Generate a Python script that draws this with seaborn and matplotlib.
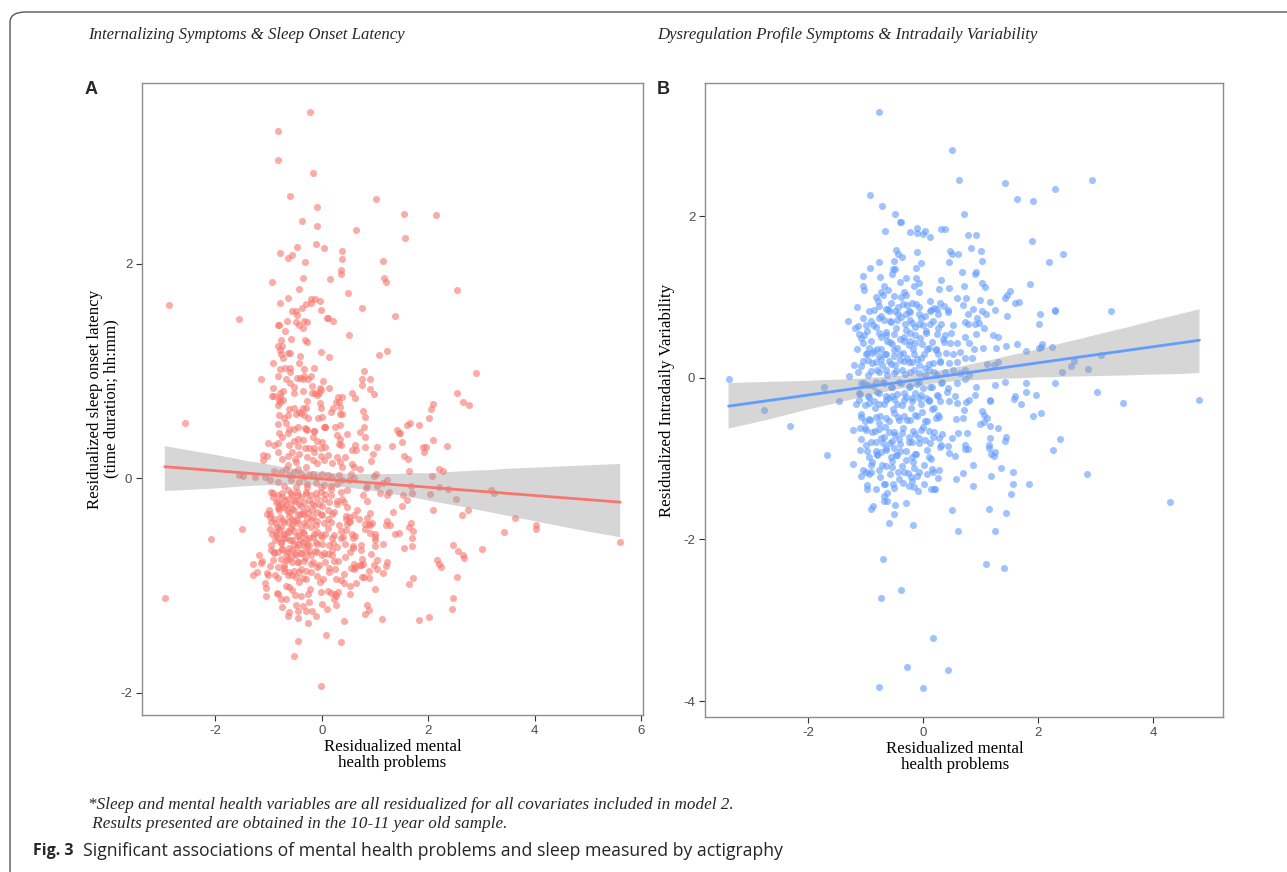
import numpy as np
import pandas as pd
import matplotlib
matplotlib.use("Agg")
import matplotlib.pyplot as plt
from matplotlib.patches import FancyBboxPatch
import seaborn as sns

# --- Data ---

# Panel A: internalizing symptoms vs sleep onset latency (residuals)
a_upper = [
    (-0.22, 3.42), (-0.82, 3.24), (-0.83, 2.97), (-0.16, 2.85), (-0.60, 2.63), (1.02, 2.61),
    (-0.09, 2.53), (1.54, 2.47), (2.15, 2.46), (-0.37, 2.40), (-0.09, 2.35), (0.65, 2.32),
    (1.56, 2.24), (-0.10, 2.19), (-0.47, 2.16), (0.04, 2.15), (0.39, 2.12), (-0.78, 2.10),
    (-0.55, 2.08), (-0.64, 2.06), (0.39, 2.05), (-0.32, 2.02), (1.15, 2.03), (0.36, 1.94),
    (0.37, 1.91), (-0.35, 1.87), (0.16, 1.86), (1.17, 1.87), (1.21, 1.83), (-0.93, 1.83),
    (-0.43, 1.77), (2.55, 1.76), (0.49, 1.73), (-2.87, 1.62), (-0.78, 1.64), (-0.64, 1.68),
    (-0.20, 1.67), (-0.13, 1.67), (-0.03, 1.65), (-0.20, 1.64), (-0.30, 1.63), (-0.38, 1.59),
    (0.75, 1.59), (-0.55, 1.56), (-0.49, 1.56), (-0.01, 1.57), (-1.55, 1.49), (-0.46, 1.52),
    (0.09, 1.50), (0.11, 1.50), (1.38, 1.51), (0.21, 1.47), (-0.65, 1.47), (-0.49, 1.46),
    (-0.33, 1.47), (-0.27, 1.46), (-0.83, 1.43), (-0.81, 1.43), (-0.42, 1.43), (-0.36, 1.40),
    (-0.69, 1.37), (0.51, 1.34), (-0.77, 1.29), (-0.57, 1.30), (-0.31, 1.29), (-0.27, 1.27),
    (-0.83, 1.23), (-0.74, 1.23), (-0.79, 1.20), (1.23, 1.19), (1.08, 1.15), (-0.64, 1.17),
    (-0.60, 1.17), (-0.76, 1.16), (-0.02, 1.18), (0.14, 1.13), (-0.41, 1.14), (-0.72, 1.12),
    (-0.42, 1.08), (-0.91, 1.08), (-0.69, 1.03), (-0.60, 1.03), (-0.34, 1.02), (-0.14, 1.03),
    (-0.79, 1.02), (0.79, 1.00), (2.89, 0.98), (-0.60, 0.99), (-1.14, 0.93), (-0.82, 0.95),
    (-0.67, 0.93), (-0.46, 0.94), (-0.41, 0.94), (-0.35, 0.93), (-0.33, 0.95), (-0.26, 0.93),
    (-0.21, 0.95), (0.02, 0.91), (0.76, 0.93), (0.91, 0.93), (0.76, 0.87), (0.90, 0.83),
    (-0.60, 0.89), (-0.53, 0.85), (-0.91, 0.84), (-0.18, 0.86), (-0.03, 0.84), (-0.02, 0.82),
    (0.14, 0.84), (-0.35, 0.81), (-0.19, 0.80), (-0.12, 0.80), (-0.05, 0.80), (-0.52, 0.80),
    (-0.72, 0.81), (-0.78, 0.80), (-0.93, 0.77), (-0.90, 0.77), (-0.79, 0.76), (-0.80, 0.73),
    (-0.73, 0.73), (-0.79, 0.71), (0.56, 0.80), (0.98, 0.79), (2.55, 0.80), (2.65, 0.71),
    (0.31, 0.76), (0.39, 0.76), (0.62, 0.75), (-0.09, 0.78), (-0.28, 0.72), (-0.03, 0.70),
    (0.32, 0.71), (0.27, 0.71), (2.10, 0.69),
]
a_sparse = [
    (-2.57, 0.52), (-2.95, -1.12), (-2.09, -0.57), (-1.50, -0.47), (-1.55, 0.03), (-1.48, 0.02),
    (-1.25, 0.01), (-1.07, 0.01), (-0.98, -0.02), (-1.11, 0.22), (-1.02, 0.21), (-1.11, 0.17),
    (-1.01, 0.33), (-1.17, -0.72), (-1.30, -0.80), (-1.30, -0.90), (-1.21, -0.87), (-1.12, -0.77),
    (-1.07, -0.98), (-1.04, -1.10), (-1.01, -0.90), (-0.97, -0.82), (-0.88, -0.90), (-0.84, -1.07),
    (-0.77, -1.13), (-0.64, -1.28), (-0.62, -1.25), (-0.52, -1.66), (-0.45, -1.52), (-0.25, -1.35),
    (-0.44, -1.30), (-0.48, -1.18), (-0.50, -1.09), (-0.36, -1.19), (-0.29, -1.24), (-0.19, -1.24),
    (-0.25, -1.08), (-0.22, -1.03), (-0.01, -1.94), (0.08, -1.46), (0.37, -1.53), (0.00, -1.17),
    (0.10, -1.22), (0.27, -1.18), (0.41, -1.33), (0.12, -1.05), (0.18, -1.07), (0.25, -1.08),
    (0.31, -1.06), (0.26, -1.10), (0.03, -0.94), (-0.04, -0.97), (0.26, -0.94), (0.37, -0.95),
    (0.41, -0.98), (0.54, -1.00), (0.65, -0.98), (0.14, -0.87), (0.25, -0.85), (0.82, -1.27),
    (0.89, -1.23), (1.13, -1.31), (1.01, -1.03), (0.75, -0.92), (0.89, -0.93), (0.89, -0.86),
    (0.60, -0.85), (0.55, -0.84), (0.63, -0.83), (0.73, -0.81), (0.77, -0.80), (0.99, -0.81),
    (1.04, -0.76), (1.15, -0.88), (1.21, -0.82), (1.64, -0.99), (1.71, -0.93), (1.83, -1.32),
    (2.01, -1.29), (2.44, -1.22), (2.46, -1.12), (2.54, -0.92), (2.16, -0.76), (2.20, -0.80),
    (2.25, -0.83), (2.47, -0.62), (2.56, -0.68), (2.66, -0.72), (2.67, -0.74), (3.02, -0.66),
    (3.43, -0.50), (3.63, -0.37), (4.02, -0.44), (4.02, -0.47), (5.61, -0.59), (3.24, -0.14),
    (3.18, -0.11), (2.75, -0.30), (2.63, -0.34), (2.53, -0.19), (2.09, -0.30), (2.04, -0.15),
    (2.37, -0.10), (2.21, -0.08), (2.08, 0.02), (2.21, 0.09), (2.27, 0.07), (2.36, 0.30),
    (2.10, 0.36), (1.91, 0.29), (1.93, 0.25), (1.96, 0.29), (2.01, 0.56), (2.06, 0.65),
    (2.77, 0.68), (1.83, 0.50), (1.60, 0.50), (1.65, 0.52), (1.42, 0.45), (1.45, 0.42),
    (1.48, 0.42), (1.50, 0.34), (1.32, 0.30), (1.54, 0.21), (1.62, 0.18), (1.64, 0.07),
    (1.67, -0.07), (1.70, -0.14), (1.52, -0.16), (1.60, -0.20), (1.50, -0.26), (1.33, -0.31),
    (1.64, -0.45), (1.68, -0.42), (1.71, -0.49), (1.69, -0.56), (1.55, -0.65), (1.70, -0.63),
    (1.38, -0.52), (1.46, -0.51), (1.21, -0.44), (1.29, -0.44), (1.22, -0.40), (0.95, -0.42),
    (0.90, -0.44), (1.00, -0.52), (1.15, -0.61), (1.00, -0.63), (1.00, -0.58), (1.10, -0.14),
    (1.23, -0.16), (1.27, -0.13), (1.04, -0.07), (1.15, -0.04), (1.22, -0.02), (0.98, 0.02),
    (1.02, 0.04), (0.86, -0.07), (0.83, -0.09), (0.77, -0.16), (0.86, -0.21), (0.90, -0.32),
    (0.82, -0.43), (0.88, -0.43), (0.91, -0.51), (0.73, -0.67), (0.76, -0.75), (0.72, -0.81),
    (0.63, -0.54), (0.59, -0.56), (0.58, -0.63), (0.58, -0.65), (0.47, -0.43), (0.51, -0.41),
    (0.45, -0.48), (0.37, -0.56), (0.44, -0.61), (0.40, -0.55), (0.22, -0.60), (0.20, -0.72),
    (0.30, -0.77), (0.43, -0.73), (0.71, 0.43), (0.82, 0.39), (0.79, 0.48), (0.77, 0.63),
    (0.82, 0.57), (0.62, 0.31), (0.57, 0.26), (0.64, 0.26), (0.56, 0.13), (0.61, 0.11),
    (0.72, 0.09), (0.82, 0.29), (0.92, 0.16), (0.97, 0.23), (1.03, 0.29), (0.55, 0.04),
    (0.44, 0.20), (0.38, 0.11), (0.34, 0.15), (0.37, 0.31), (0.32, 0.32), (0.34, 0.37),
    (0.47, 0.41), (0.28, 0.40), (0.25, 0.48), (0.35, 0.50), (0.34, 0.60), (0.39, 0.60),
    (0.17, 0.62), (0.22, 0.66), (0.34, 0.67), (0.07, 0.48), (0.05, 0.48), (-0.14, 0.44),
    (-0.28, 0.45), (-0.31, 0.47), (0.00, 0.57), (-0.07, 0.56), (-0.02, 0.66), (-0.39, 0.61),
]
a_core = [
    (-0.83, 0.68), (-0.61, 0.65), (-0.52, 0.66), (-0.42, 0.62), (-0.36, 0.66), (-0.29, 0.66),
    (-0.80, 0.59), (-0.70, 0.56), (-0.64, 0.59), (-0.49, 0.60), (-0.33, 0.59), (-0.25, 0.56),
    (-0.83, 0.51), (-0.67, 0.52), (-0.61, 0.46), (-0.52, 0.46), (-0.45, 0.48), (-0.30, 0.46),
    (-0.14, 0.44), (0.06, 0.48), (-0.80, 0.42), (-0.64, 0.42), (-0.74, 0.39), (-0.52, 0.35),
    (-0.45, 0.37), (-0.35, 0.36), (-0.17, 0.39), (-0.08, 0.35), (0.01, 0.34), (0.06, 0.29),
    (-0.89, 0.31), (-0.82, 0.33), (-0.61, 0.31), (-0.45, 0.30), (-0.32, 0.28), (-0.14, 0.28),
    (-0.24, 0.28), (-0.02, 0.28), (-0.83, 0.25), (-0.74, 0.18), (-0.64, 0.21), (-0.55, 0.25),
    (-0.50, 0.18), (-0.42, 0.23), (-0.27, 0.20), (-0.14, 0.25), (-0.02, 0.21), (0.11, 0.22),
    (0.20, 0.14), (0.29, 0.20), (-0.64, 0.12), (-0.49, 0.15), (-0.30, 0.11), (-0.17, 0.17),
    (-0.08, 0.14), (0.04, 0.17), (-0.89, 0.07), (-0.77, 0.06), (-0.67, 0.09), (-0.61, 0.03),
    (-0.52, 0.06), (-0.45, 0.09), (-0.39, 0.04), (-0.33, 0.01), (-0.24, 0.03), (-0.17, 0.04),
    (-0.08, 0.01), (0.01, 0.04), (0.11, 0.03), (0.20, 0.01), (0.32, 0.03), (0.39, -0.02),
    (0.51, -0.02), (-0.58, -0.02), (-0.42, -0.03), (-0.27, -0.05), (-0.11, -0.04), (0.04, -0.06),
    (0.17, -0.07), (0.29, -0.05), (0.60, 0.00), (-0.83, -0.03), (-0.70, -0.07), (-0.49, -0.08),
    (-0.27, -0.08), (-0.02, -0.08), (-0.95, -0.13), (-0.92, -0.17), (-0.83, -0.16), (-0.74, -0.14),
    (-0.64, -0.11), (-0.55, -0.16), (-0.47, -0.13), (-0.39, -0.17), (-0.30, -0.13), (-0.21, -0.16),
    (-0.11, -0.14), (-0.02, -0.13), (0.07, -0.15), (0.18, -0.10), (0.36, -0.13), (0.48, -0.11),
    (-0.86, -0.22), (-0.77, -0.24), (-0.64, -0.19), (-0.52, -0.20), (-0.42, -0.24), (-0.33, -0.22),
    (-0.24, -0.20), (-0.14, -0.25), (-0.05, -0.24), (0.04, -0.19), (0.14, -0.22), (0.29, -0.21),
    (0.42, -0.22), (-1.00, -0.30), (-0.98, -0.33), (-0.83, -0.28), (-0.70, -0.27), (-0.61, -0.31),
    (-0.52, -0.30), (-0.45, -0.34), (-0.36, -0.33), (-0.27, -0.28), (-0.17, -0.36), (-0.08, -0.31),
    (0.01, -0.34), (0.11, -0.30), (0.20, -0.33), (0.45, -0.38), (0.51, -0.36), (-0.95, -0.41),
    (-0.86, -0.42), (-0.74, -0.39), (-0.64, -0.41), (-0.55, -0.38), (-0.45, -0.42), (-0.33, -0.42),
    (-0.21, -0.39), (-0.11, -0.44), (0.04, -0.42), (0.17, -0.41), (0.32, -0.44), (0.60, -0.34),
    (0.70, -0.38), (-0.86, -0.50), (-0.80, -0.47), (-0.70, -0.52), (-0.61, -0.50), (-0.52, -0.49),
    (-0.42, -0.53), (-0.33, -0.52), (-0.24, -0.56), (-0.14, -0.52), (-0.02, -0.53), (0.07, -0.52),
    (0.20, -0.56), (-0.83, -0.56), (-0.77, -0.59), (-0.67, -0.56), (-0.55, -0.58), (-0.45, -0.61),
    (-0.36, -0.59), (-0.27, -0.62), (-0.11, -0.59), (0.01, -0.61), (0.14, -0.62), (-0.95, -0.67),
    (-0.90, -0.70), (-0.83, -0.69), (-0.74, -0.66), (-0.64, -0.69), (-0.55, -0.67), (-0.49, -0.72),
    (-0.39, -0.70), (-0.30, -0.69), (-0.21, -0.72), (-0.08, -0.69), (0.01, -0.72), (0.11, -0.71),
    (0.20, -0.67), (-0.77, -0.75), (-0.67, -0.76), (-0.58, -0.73), (-0.45, -0.78), (-0.33, -0.77),
    (-0.17, -0.78), (-0.05, -0.81), (0.07, -0.78), (-0.83, -0.83), (-0.70, -0.84), (-0.61, -0.87),
    (-0.52, -0.86), (-0.42, -0.87), (-0.30, -0.86), (-0.21, -0.87), (-0.08, -0.83), (-0.55, -0.90),
    (-0.36, -0.93), (-0.67, -1.00), (-0.61, -1.01), (-0.42, -0.97),
]
# extra points in the densest part of panel A (below the line)
a_dense = [
    (-0.92, -0.14), (-0.83, -0.22), (-0.74, -0.17), (-0.67, -0.25), (-0.58, -0.14), (-0.49, -0.21),
    (-0.39, -0.26), (-0.30, -0.15), (-0.18, -0.23), (-0.08, -0.18), (0.01, -0.26), (0.17, -0.16),
    (0.29, -0.24), (0.39, -0.19), (0.48, -0.27), (-1.02, -0.33), (-0.89, -0.38), (-0.80, -0.30),
    (-0.70, -0.41), (-0.61, -0.35), (-0.55, -0.29), (-0.46, -0.39), (-0.36, -0.31), (-0.27, -0.37),
    (-0.18, -0.30), (-0.08, -0.40), (-0.02, -0.33), (0.11, -0.38), (0.23, -0.31), (0.45, -0.35),
    (0.54, -0.40), (0.67, -0.30), (0.85, -0.37), (-0.98, -0.47), (-0.86, -0.53), (-0.77, -0.45),
    (-0.70, -0.56), (-0.64, -0.49), (-0.55, -0.44), (-0.46, -0.54), (-0.39, -0.47), (-0.30, -0.57),
    (-0.21, -0.45), (-0.08, -0.50), (0.01, -0.55), (0.11, -0.46), (0.23, -0.53), (0.36, -0.49),
    (0.57, -0.52), (0.82, -0.47), (1.01, -0.55), (-0.95, -0.62), (-0.89, -0.69), (-0.77, -0.60),
    (-0.67, -0.71), (-0.61, -0.65), (-0.52, -0.61), (-0.39, -0.70), (-0.33, -0.63), (-0.24, -0.68),
    (-0.08, -0.61), (0.05, -0.70), (0.29, -0.64), (0.54, -0.69), (0.73, -0.62), (0.92, -0.71),
    (-1.14, -0.79), (-1.02, -0.88), (-0.92, -0.76), (-0.83, -0.93), (-0.70, -0.81), (-0.64, -0.90),
    (-0.55, -0.78), (-0.39, -0.85), (-0.30, -0.94), (-0.21, -0.80), (-0.08, -0.91), (0.14, -0.84),
    (0.23, -0.77), (0.42, -0.89), (0.60, -0.80), (0.79, -0.92), (1.04, -0.85), (1.23, -0.78),
    (-1.05, -1.02), (-0.83, -1.08), (-0.67, -1.13), (-0.55, -1.04), (-0.39, -1.10), (-0.24, -1.15),
    (-0.02, -1.06), (0.23, -1.13), (0.54, -1.08), (0.85, -1.18), (-0.75, -1.20), (-0.45, -1.24),
    (-0.10, -1.28), (-0.85, -0.45), (-0.78, -0.36), (-0.72, -0.52), (-0.66, -0.30), (-0.60, -0.58),
    (-0.53, -0.40), (-0.47, -0.64), (-0.41, -0.33), (-0.35, -0.50), (-0.29, -0.44), (-0.23, -0.62),
    (-0.88, -0.58), (-0.75, -0.66), (-0.63, -0.75), (-0.50, -0.70), (-0.44, -0.78), (-0.31, -0.74),
    (-0.81, -0.27), (-0.69, -0.20), (-0.57, -0.24), (-0.44, -0.16), (-0.26, -0.32), (-0.16, -0.55),
    (-0.12, -0.68), (-0.94, -0.52), (-0.97, -0.36), (-0.40, -0.58), (-0.58, -0.46), (-0.70, -0.86),
    (-0.48, -0.92),
]

# Panel B: dysregulation profile symptoms vs intradaily variability (residuals)
b_sparse = [
    (-0.77, 3.29), (0.50, 2.82), (0.63, 2.45), (1.43, 2.41), (2.94, 2.45), (2.29, 2.33),
    (1.63, 2.21), (1.92, 2.19), (-0.92, 2.26), (-0.71, 2.13), (-0.48, 2.02), (-0.40, 1.93),
    (-0.38, 1.93), (0.72, 2.02), (-0.66, 1.82), (-0.22, 1.80), (-0.11, 1.85), (-0.10, 1.79),
    (0.00, 1.78), (0.03, 1.82), (0.12, 1.74), (0.32, 1.84), (0.38, 1.84), (0.79, 1.76),
    (0.92, 1.76), (1.90, 1.69), (2.43, 1.53), (2.20, 1.43), (1.87, 1.16), (3.28, 0.82),
    (2.29, 0.84), (2.30, 0.83), (2.04, 0.79), (2.02, 0.67), (2.25, 0.38), (2.62, 0.21),
    (2.57, 0.15), (3.09, 0.28), (2.88, 0.11), (2.42, 0.07), (2.30, -0.06), (3.02, -0.17),
    (3.48, -0.31), (4.81, -0.27), (-3.38, -0.02), (-1.72, -0.12), (-1.31, 0.70), (1.79, 0.33),
    (2.02, 0.37), (2.07, 0.42), (2.06, 0.38), (1.80, -0.06), (1.79, -0.17), (1.96, -0.21),
    (-2.77, -0.40), (-2.31, -0.60), (-1.46, -0.29), (-1.67, -0.96), (-1.21, -1.07), (-0.97, -1.37),
    (-0.90, -1.62), (-0.86, -1.59), (-0.69, -2.24), (-0.72, -2.72), (-0.38, -2.63), (-0.77, -3.82),
    (-0.27, -3.58), (0.01, -3.84), (0.43, -3.62), (0.18, -3.22), (-0.59, -1.80), (-0.51, -1.69),
    (-0.48, -1.58), (-0.68, -1.53), (-0.63, -1.53), (-0.68, -1.46), (-0.63, -1.42), (-0.30, -1.55),
    (-0.17, -1.82), (-0.09, -1.40), (-0.24, -1.34), (-0.19, -1.28), (0.14, -1.37), (0.21, -1.38),
    (0.50, -1.64), (0.61, -1.90), (0.87, -1.34), (1.15, -1.62), (1.25, -1.89), (1.45, -1.67),
    (1.10, -2.30), (1.41, -2.35), (1.54, -1.44), (1.57, -1.32), (1.85, -1.32), (2.85, -1.19),
    (4.29, -1.54), (2.27, -0.89), (2.38, -0.76), (1.92, -0.47), (2.06, -0.44),
]
b_core = [
    (-0.46, 1.58), (-0.44, 1.53), (-0.37, 1.50), (-0.10, 1.56), (-0.51, 1.45), (-0.76, 1.43),
    (-0.03, 1.42), (0.47, 1.57), (0.50, 1.53), (0.61, 1.53), (0.45, 1.43), (0.84, 1.60),
    (1.01, 1.57), (1.03, 1.45), (-0.52, 1.35), (-0.49, 1.35), (-0.92, 1.36), (-0.12, 1.36),
    (0.68, 1.31), (0.90, 1.28), (0.92, 1.31), (-1.05, 1.26), (-0.75, 1.25), (-0.53, 1.28),
    (-0.29, 1.24), (-0.12, 1.23), (-0.40, 1.19), (-0.16, 1.13), (-0.07, 1.17), (0.32, 1.21),
    (0.72, 1.13), (0.45, 1.11), (0.28, 1.10), (1.03, 1.17), (1.08, 1.12), (-1.05, 1.13),
    (-1.02, 1.09), (-0.68, 1.13), (-0.60, 1.08), (-0.73, 1.06), (-0.50, 1.01), (-0.38, 1.00),
    (-0.32, 1.06), (-0.30, 1.02), (-0.81, 1.00), (-0.78, 0.95), (-0.69, 1.03), (-0.06, 1.06),
    (0.13, 0.95), (0.30, 0.92), (0.20, 0.86), (0.24, 0.85), (0.43, 0.84), (0.43, 0.81),
    (0.60, 0.99), (0.75, 0.99), (0.69, 0.90), (0.99, 0.96), (1.17, 0.94), (1.25, 0.84),
    (1.43, 0.99), (1.47, 1.02), (1.51, 1.07), (1.61, 0.93), (1.67, 0.94), (1.47, 0.77),
    (-0.35, 0.91), (-0.27, 0.90), (-0.19, 0.93), (-0.12, 0.91), (-0.56, 0.93), (-0.65, 0.85),
    (-0.59, 0.83), (-0.85, 0.84), (-0.49, 0.83), (-0.44, 0.79), (-0.29, 0.79), (-0.23, 0.81),
    (-0.06, 0.79), (0.04, 0.76), (0.13, 0.83), (0.26, 0.79), (0.78, 0.79), (0.88, 0.85),
    (0.94, 0.74), (1.02, 0.83), (1.09, 0.79), (-1.12, 0.64), (-0.99, 0.65), (-0.87, 0.65),
    (-0.76, 0.74), (-0.68, 0.72), (-0.58, 0.70), (-0.45, 0.72), (-0.31, 0.66), (-0.19, 0.68),
    (-0.07, 0.67), (0.01, 0.65), (0.13, 0.66), (0.32, 0.67), (0.53, 0.65), (0.73, 0.69),
    (0.79, 0.66), (0.91, 0.67), (0.98, 0.68), (-1.11, 0.54), (-1.02, 0.53), (-0.76, 0.56),
    (-0.65, 0.53), (-0.50, 0.54), (-0.33, 0.51), (-0.22, 0.56), (-0.13, 0.53), (0.05, 0.56),
    (0.24, 0.54), (0.39, 0.53), (0.49, 0.56), (0.73, 0.51), (0.92, 0.54), (1.06, 0.62),
    (1.22, 0.53), (1.31, 0.51), (-1.04, 0.43), (-0.94, 0.37), (-0.85, 0.33), (-0.73, 0.35),
    (-0.62, 0.45), (-0.53, 0.42), (-0.45, 0.37), (-0.33, 0.45), (-0.25, 0.41), (-0.13, 0.43),
    (-0.01, 0.42), (0.10, 0.37), (0.23, 0.35), (0.36, 0.44), (0.47, 0.43), (0.59, 0.43),
    (0.80, 0.43), (0.89, 0.35), (1.05, 0.37), (1.28, 0.37), (1.45, 0.39), (1.63, 0.42),
    (-0.99, 0.29), (-0.88, 0.31), (-0.76, 0.27), (-0.65, 0.30), (-0.50, 0.27), (-0.39, 0.29),
    (-0.27, 0.25), (-0.16, 0.30), (-0.04, 0.25), (0.07, 0.35), (0.27, 0.29), (0.41, 0.31),
    (0.53, 0.29), (0.65, 0.32), (0.73, 0.25), (0.85, 0.25), (-1.19, 0.16), (-1.08, 0.14),
    (-0.96, 0.22), (-0.82, 0.20), (-0.71, 0.16), (-0.59, 0.21), (-0.48, 0.16), (-0.33, 0.21),
    (-0.19, 0.19), (-0.07, 0.16), (0.04, 0.12), (0.17, 0.18), (0.30, 0.20), (0.45, 0.18),
    (0.59, 0.20), (0.73, 0.10), (1.11, 0.17), (1.24, 0.16), (1.31, 0.20), (-0.91, 0.08),
    (-0.76, 0.07), (-0.65, 0.10), (-0.50, 0.06), (-0.36, 0.09), (-0.22, 0.07), (-0.07, 0.06),
    (0.10, 0.09), (0.25, 0.04), (0.39, 0.07), (0.53, 0.09), (0.65, 0.06), (0.80, 0.04),
    (-1.28, 0.02), (-1.08, -0.07), (-0.96, -0.09), (-0.82, -0.05), (-0.68, -0.07), (-0.53, -0.11),
    (-0.42, -0.05), (-0.25, -0.11), (-0.10, -0.08), (0.01, -0.13), (0.16, -0.11), (0.33, -0.05),
    (0.44, -0.13), (0.59, -0.07), (0.73, -0.02), (0.92, -0.11), (1.43, -0.05), (1.26, -0.09),
    (-1.11, -0.19), (-0.96, -0.22), (-0.79, -0.17), (-0.65, -0.23), (-0.50, -0.26), (-0.33, -0.19),
    (-0.19, -0.25), (-0.04, -0.21), (0.10, -0.27), (0.27, -0.23), (0.42, -0.17), (0.56, -0.23),
    (0.91, -0.21), (1.17, -0.27), (1.60, -0.23), (-1.17, -0.33), (-1.11, -0.27), (-0.94, -0.31),
    (-0.85, -0.29), (-0.76, -0.33), (-0.65, -0.27), (-0.53, -0.23), (-0.45, -0.33), (-0.33, -0.27),
    (-0.19, -0.29), (-0.07, -0.25), (0.10, -0.29), (0.20, -0.38), (0.30, -0.29), (0.45, -0.29),
    (0.60, -0.31), (0.75, -0.30), (0.80, -0.27), (1.02, -0.41), (1.17, -0.29), (1.59, -0.26),
    (1.70, -0.32), (-1.08, -0.45), (-1.00, -0.54), (-0.94, -0.51), (-0.82, -0.48), (-0.76, -0.56),
    (-0.65, -0.50), (-0.50, -0.44), (-0.42, -0.52), (-0.33, -0.47), (-0.22, -0.52), (-0.13, -0.46),
    (-0.02, -0.42), (0.04, -0.54), (0.22, -0.50), (0.26, -0.46), (0.58, -0.51), (0.70, -0.50),
    (0.72, -0.40), (1.07, -0.46), (1.11, -0.50), (0.99, -0.57), (1.07, -0.55), (-1.22, -0.65),
    (-1.10, -0.62), (-0.99, -0.65), (-0.88, -0.67), (-0.76, -0.63), (-0.68, -0.73), (-0.59, -0.67),
    (-0.48, -0.71), (-0.36, -0.68), (-0.24, -0.73), (-0.13, -0.70), (-0.04, -0.65), (0.04, -0.77),
    (0.11, -0.66), (0.18, -0.73), (0.28, -0.74), (0.33, -0.69), (0.50, -0.75), (0.61, -0.68),
    (0.77, -0.68), (1.17, -0.60), (1.31, -0.62), (1.17, -0.75), (1.44, -0.73), (1.42, -0.78),
    (0.73, -0.83), (0.43, -0.84), (0.31, -0.83), (-0.82, -0.79), (-0.70, -0.81), (-0.53, -0.78),
    (-0.39, -0.82), (-0.19, -0.79), (-0.07, -0.81), (-1.10, -0.89), (-0.99, -0.83), (-0.94, -0.98),
    (-0.82, -0.90), (-0.79, -0.96), (-0.73, -0.92), (-0.65, -0.87), (-0.56, -0.98), (-0.50, -0.87),
    (-0.45, -0.96), (-0.39, -0.90), (-0.30, -1.02), (-0.19, -0.98), (-0.13, -0.94), (0.10, -0.98),
    (0.14, -1.01), (0.29, -0.86), (0.45, -0.93), (0.55, -0.97), (0.73, -0.88), (0.79, -0.88),
    (1.15, -0.83), (1.15, -0.87), (1.25, -0.92), (1.18, -0.94), (1.23, -0.97), (-1.05, -1.14),
    (-0.99, -1.16), (-0.94, -1.19), (-0.91, -1.08), (-0.76, -1.14), (-0.65, -1.09), (-0.53, -1.10),
    (-0.43, -1.17), (-0.33, -1.17), (-0.16, -1.12), (-0.07, -1.17), (0.16, -1.13), (0.18, -1.17),
    (0.28, -1.14), (0.58, -1.25), (0.70, -1.18), (0.88, -1.08), (1.19, -1.22), (1.36, -1.12),
    (1.57, -1.17), (-0.21, -1.23), (-0.68, -1.32), (-0.52, -1.32),
]
# extra points in the densest part of panel B
b_dense = [
    (-1.15, 0.88), (-0.93, 0.83), (-0.76, 0.89), (-0.60, 0.85), (-0.43, 0.87), (-0.25, 0.82),
    (-0.07, 0.88), (0.14, 0.84), (0.36, 0.89), (-1.05, 0.74), (-0.90, 0.70), (-0.72, 0.76),
    (-0.56, 0.69), (-0.38, 0.75), (-0.22, 0.71), (-0.04, 0.74), (0.18, 0.70), (-1.18, 0.62),
    (-0.97, 0.58), (-0.82, 0.63), (-0.64, 0.57), (-0.47, 0.62), (-0.30, 0.59), (-0.14, 0.63),
    (0.06, 0.58), (0.27, 0.61), (-1.08, 0.49), (-0.90, 0.45), (-0.73, 0.50), (-0.57, 0.44),
    (-0.40, 0.48), (-0.23, 0.45), (-0.05, 0.49), (0.15, 0.44), (0.35, 0.48), (-1.15, 0.35),
    (-0.98, 0.31), (-0.80, 0.36), (-0.66, 0.30), (-0.50, 0.34), (-0.34, 0.31), (-0.17, 0.36),
    (0.02, 0.30), (0.22, 0.34), (-1.05, 0.21), (-0.88, 0.18), (-0.73, 0.23), (-0.56, 0.17),
    (-0.40, 0.22), (-0.25, 0.19), (-0.10, 0.23), (0.10, 0.17), (0.30, 0.21), (-1.12, 0.07),
    (-0.95, 0.04), (-0.79, 0.09), (-0.62, 0.03), (-0.46, 0.08), (-0.31, 0.05), (-0.15, 0.09),
    (0.03, 0.03), (0.20, 0.07), (-1.02, -0.06), (-0.86, -0.10), (-0.70, -0.05), (-0.55, -0.11),
    (-0.38, -0.06), (-0.22, -0.10), (-0.06, -0.05), (0.12, -0.11), (0.32, -0.07), (-1.10, -0.20),
    (-0.93, -0.24), (-0.77, -0.19), (-0.61, -0.25), (-0.45, -0.20), (-0.29, -0.24), (-0.13, -0.19),
    (0.05, -0.25), (0.24, -0.21), (-1.00, -0.34), (-0.84, -0.38), (-0.68, -0.33), (-0.52, -0.39),
    (-0.36, -0.34), (-0.20, -0.38), (-0.03, -0.33), (0.16, -0.39), (-1.08, -0.48), (-0.92, -0.52),
    (-0.75, -0.47), (-0.59, -0.53), (-0.43, -0.48), (-0.27, -0.52), (-0.10, -0.47), (0.08, -0.53),
    (0.28, -0.49), (-1.00, -0.62), (-0.83, -0.66), (-0.66, -0.61), (-0.50, -0.67), (-0.34, -0.62),
    (-0.17, -0.66), (0.01, -0.61), (0.20, -0.67), (-1.07, -0.76), (-0.90, -0.80), (-0.73, -0.75),
    (-0.57, -0.81), (-0.41, -0.76), (-0.24, -0.80), (-0.06, -0.75), (0.13, -0.81), (-0.98, -0.90),
    (-0.80, -0.94), (-0.64, -0.89), (-0.47, -0.95), (-0.30, -0.90), (-0.12, -0.94), (0.07, -0.89),
    (-0.88, -1.04), (-0.71, -1.08), (-0.53, -1.03), (-0.36, -1.09), (-0.18, -1.04), (0.02, -1.08),
    (-1.08, -1.21), (-0.90, -1.17), (-0.74, -1.23), (-0.58, -1.19), (-0.42, -1.25), (-0.26, -1.18),
    (-0.10, -1.22), (0.08, -1.19), (0.26, -1.24), (-0.98, -1.33), (-0.82, -1.37), (-0.66, -1.31),
    (-0.50, -1.36), (-0.34, -1.30), (-0.16, -1.35), (0.02, -1.31), (0.20, -1.37),
]

panel_titles = ["Internalizing Symptoms & Sleep Onset Latency",
                "Dysregulation Profile Symptoms & Intradaily Variability"]
panel_letters = ["A", "B"]
x_label = "Residualized mental\nhealth problems"
y_labels = ["Residualized sleep onset latency\n(time duration; hh:mm)",
            "Residualized Intradaily Variability"]
x_ticks = [[-2, 0, 2, 4, 6], [-2, 0, 2, 4]]
y_ticks = [[-2, 0, 2], [-4, -2, 0, 2]]
footnote = ("*Sleep and mental health variables are all residualized for all covariates included in model 2.\n"
            " Results presented are obtained in the 10-11 year old sample.")
caption_bold = "Fig. 3"
caption_text = "Significant associations of mental health problems and sleep measured by actigraphy"

df_a = pd.DataFrame(a_upper + a_sparse + a_core + a_dense, columns=["mh", "sleep"])
df_b = pd.DataFrame(b_sparse + b_core + b_dense, columns=["mh", "sleep"])

colors = ["#F8766D", "#619CFF"]

# --- Figure ---
sns.set_style("white")
plt.rcParams["font.family"] = ["Liberation Sans", "DejaVu Sans"]
plt.rcParams["axes.unicode_minus"] = False

fig = plt.figure(figsize=(12.87, 8.72), dpi=100)
W, H = 1287, 872

# outer rounded frame
frame = FancyBboxPatch((10 / W, -0.05), 1.1, 1.05 - 12 / H,
                       boxstyle="round,pad=0,rounding_size=0.012",
                       transform=fig.transFigure, fill=False,
                       edgecolor="#555555", linewidth=1.0)
fig.patches.append(frame)

axes_px = [(142, 643, 83, 715), (705, 1223, 83, 717)]
ylab_x = [-0.078, -0.073]
xlab_x = [0.5, 0.483]
serif = ["Liberation Serif", "DejaVu Serif"]

for i, (df, (l, r, t, b)) in enumerate(zip([df_a, df_b], axes_px)):
    ax = fig.add_axes([l / W, 1 - b / H, (r - l) / W, (b - t) / H])
    sns.regplot(data=df, x="mh", y="sleep", ax=ax, ci=95, seed=0,
                scatter_kws={"s": 26, "alpha": 0.6, "color": colors[i], "linewidths": 0},
                line_kws={"color": colors[i], "lw": 2.0})
    # grey confidence band, as in ggplot
    for coll in ax.collections[1:]:
        coll.set_facecolor("#999999")
        coll.set_alpha(0.4)
        coll.set_edgecolor("none")

    ax.set_xticks(x_ticks[i])
    ax.set_yticks(y_ticks[i])
    ax.tick_params(axis="both", direction="out", length=4, width=0.8,
                   bottom=True, left=True,
                   color="#333333", labelcolor="#4D4D4D", labelsize=9.5, pad=3)
    for sp in ax.spines.values():
        sp.set_color("#8C8C8C")
        sp.set_linewidth(1.0)

    ax.set_xlabel(x_label, family=serif, fontsize=12.2, color="black", linespacing=1.0)
    ax.set_ylabel(y_labels[i], family=serif, fontsize=12.2, color="black", linespacing=1.0)
    ax.xaxis.set_label_coords(xlab_x[i], -0.038)
    ax.xaxis.label.set_va("top")
    ax.yaxis.set_label_coords(ylab_x[i], 0.5)
    ax.yaxis.label.set_va("center")

fig.text(88 / W, 1 - 35 / H, panel_titles[0], family=serif, style="italic",
         fontsize=12.1, va="center", ha="left")
fig.text(657 / W, 1 - 35 / H, panel_titles[1], family=serif, style="italic",
         fontsize=12.1, va="center", ha="left")
fig.text(85 / W, 1 - 90 / H, panel_letters[0], fontsize=13, weight="bold",
         va="center", ha="left")
fig.text(657 / W, 1 - 90 / H, panel_letters[1], fontsize=13, weight="bold",
         va="center", ha="left")

fig.text(88 / W, 1 - 814 / H, footnote, family=serif, style="italic",
         fontsize=12.3, va="center", ha="left", linespacing=1.25)

cap_font = ["Open Sans", "DejaVu Sans"]
fig.text(33 / W, 1 - 851 / H, caption_bold, family=cap_font, weight="bold",
         fontsize=11.5, va="center", ha="left")
fig.text(83 / W, 1 - 851 / H, caption_text, family=cap_font,
         fontsize=12.7, va="center", ha="left")

fig.savefig("out.png", dpi=100)
